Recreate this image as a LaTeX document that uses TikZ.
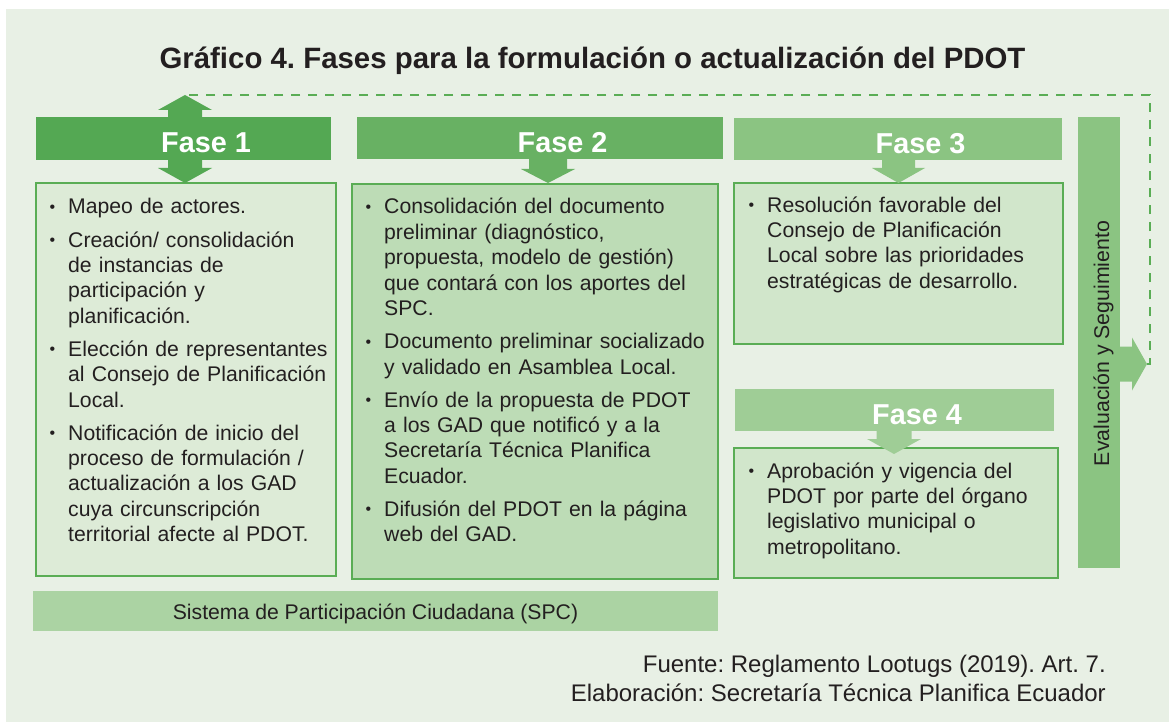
\documentclass[tikz,border=0pt]{standalone}
\usepackage{fontspec}
\setmainfont{Liberation Sans}
\frenchspacing
\usetikzlibrary{calc}
\definecolor{bg}{HTML}{E8F0E5}
\definecolor{cA}{HTML}{54A853}
\definecolor{cB}{HTML}{68B163}
\definecolor{cC}{HTML}{8BC482}
\definecolor{cD}{HTML}{9FCD96}
\definecolor{cSPC}{HTML}{ABD3A3}
\definecolor{fA}{HTML}{DDEBD7}
\definecolor{fB}{HTML}{BDDCB6}
\definecolor{fC}{HTML}{D1E6CB}
\definecolor{bord}{HTML}{5AAD55}
\definecolor{txt}{HTML}{231F20}
\newcommand{\bul}{\leavevmode\llap{\makebox[18.5pt][l]{\raisebox{1.5pt}{\fontsize{16}{16}\selectfont\textbullet}}}}
\newcommand{\blk}[7]{\fill[#1] (#2-#6,#3) -- (#2-#6,#4) -- (#2-#7,#4) -- (#2,#5) -- (#2+#7,#4) -- (#2+#6,#4) -- (#2+#6,#3) -- cycle;}
\tikzset{
  banner/.style={fill=#1, draw=none, anchor=north west, inner sep=0pt, outer sep=0pt},
  boxx/.style={fill=#1, draw=bord, line width=2pt, anchor=north west, inner sep=0pt, outer sep=0pt},
  fasetxt/.style={anchor=base, text=white, font=\bfseries\fontsize{28.8}{30}\selectfont, inner sep=0pt},
  body/.style={anchor=base west, text=txt, align=left, inner sep=0pt, text width=330pt,
    font=\fontsize{21.2}{25.4}\selectfont},
  dashline/.style={draw=bord, line width=2pt, dash pattern=on 9pt off 8pt},
}
\begin{document}
\begin{tikzpicture}[x=1pt,y=-1pt]
\useasboundingbox (0,0) rectangle (1169,722);
\fill[white] (0,0) rectangle (1169,722);
\fill[bg] (6,9) rectangle (1169,722);

\node[anchor=base, text=txt, font=\bfseries\fontsize{29.4}{32}\selectfont, inner sep=0pt] (title) at (592.5,69)
  {Gráfico 4. Fases para la formulación o actualización del PDOT};

% feedback connector
\coordinate (rtip) at (1147,364);
\coordinate (uptip) at (185,95);
\draw[dashline] (rtip) -- ++(3,0) |- (uptip);

% banners
\node[banner=cA, minimum width=295pt, minimum height=43pt] (f1) at (36,117) {};
\node[banner=cB, minimum width=366pt, minimum height=42pt] (f2) at (357,117) {};
\node[banner=cC, minimum width=328pt, minimum height=42pt] (f3) at (734,118) {};
\node[banner=cD, minimum width=319pt, minimum height=42pt] (f4) at (735,389) {};
\node[banner=cC, minimum width=42pt, minimum height=451pt] (ev) at (1078,117) {};
\node[banner=cSPC, minimum width=685pt, minimum height=40pt] (spc) at (33,591) {};

% content boxes
\node[boxx=fA, minimum width=300pt, minimum height=393pt] (b1) at (36,183) {};
\node[boxx=fB, minimum width=366pt, minimum height=395pt] (b2) at (352,184) {};
\node[boxx=fC, minimum width=329pt, minimum height=161pt] (b3) at (734,183) {};
\node[boxx=fC, minimum width=324pt, minimum height=130pt] (b4) at (734,448) {};

% block arrows
\blk{cA}{185}{119}{110}{95}{17}{27}
\blk{cA}{185}{158}{168}{183}{17}{27}
\blk{cB}{548}{157}{169}{183}{19}{27}
\blk{cC}{898.5}{158}{168}{183}{16.5}{26.5}
\blk{cD}{894}{429}{439}{454}{17.5}{27}
\fill[cC] (1120,346.5) -- (1132,346.5) -- (1132,337.5) -- (rtip) -- (1132,390.5) -- (1132,381.5) -- (1120,381.5) -- cycle;

% phase labels
\node[fasetxt] (f1t) at ($(f1.center)+(22.5,14.5)$) {Fase 1};
\node[fasetxt] (f2t) at ($(f2.center)+(22.5,14.5)$) {Fase 2};
\node[fasetxt] (f3t) at ($(f3.center)+(22.5,14.5)$) {Fase 3};
\node[fasetxt] (f4t) at ($(f4.center)+(22.5,14.5)$) {Fase 4};

% texts
\node[body] (t1) at (68,214) {%
\bul Mapeo de actores.\\[7.6pt]
\bul Creación/ consolidación\\
de instancias de\\
participación y\\
planificación.\\[7.6pt]
\bul Elección de representantes\\
al Consejo de Planificación\\
Local.\\[7.6pt]
\bul Notificación de inicio del\\
proceso de formulación /\\
actualización a los GAD\\
cuya circunscripción\\
territorial afecte al PDOT.};

\node[body] (t2) at (384,214) {%
\bul Consolidación del documento\\
preliminar (diagnóstico,\\
propuesta, modelo de gestión)\\
que contará con los aportes del\\
SPC.\\[7.6pt]
\bul Documento preliminar socializado\\
y validado en Asamblea Local.\\[7.6pt]
\bul Envío de la propuesta de PDOT\\
a los GAD que notificó y a la\\
Secretaría Técnica Planifica\\
Ecuador.\\[7.6pt]
\bul Difusión del PDOT en la página\\
web del GAD.};

\node[body] (t3) at (767,212) {%
\bul Resolución favorable del\\
Consejo de Planificación\\
Local sobre las prioridades\\
estratégicas de desarrollo.};

\node[body] (t4) at (767,478) {%
\bul Aprobación y vigencia del\\
PDOT por parte del órgano\\
legislativo municipal o\\
metropolitano.};

\node[rotate=90, anchor=base, text=txt, inner sep=0pt, font=\fontsize{21.3}{25}\selectfont] (evt) at (1109,343.5)
  {Evaluación y Seguimiento};

\node[anchor=base, text=txt, inner sep=0pt, font=\fontsize{21.2}{25}\selectfont] (spct) at (375.5,619.5)
  {Sistema de Participación Ciudadana (SPC)};

\node[anchor=base east, text=txt, inner sep=0pt, font=\fontsize{24}{28}\selectfont] (src1) at (1106,672)
  {Fuente: Reglamento Lootugs (2019). Art. 7.};
\node[anchor=base east, text=txt, inner sep=0pt, font=\fontsize{24}{28}\selectfont] (src2) at (1106,701)
  {Elaboración: Secretaría Técnica Planifica Ecuador};
\end{tikzpicture}
\end{document}
